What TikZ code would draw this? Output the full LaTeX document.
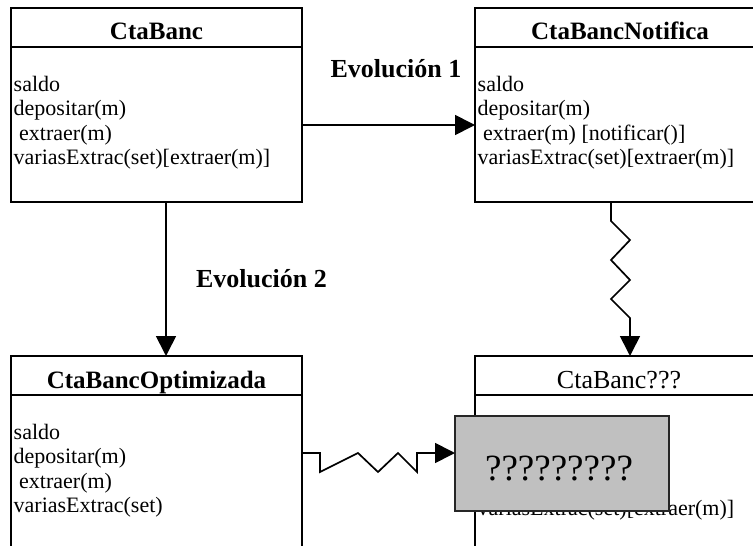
\documentclass[tikz,border=0pt]{standalone}
\usepackage{fontspec}
\setmainfont{Liberation Serif}
\usetikzlibrary{arrows.meta}
\definecolor{graybox}{RGB}{192,192,192}
\begin{document}
\begin{tikzpicture}[x=1pt,y=-1pt,
  classbox/.style={draw, line width=2.5pt, minimum width=291pt, minimum height=194pt,
    inner sep=0pt, outer sep=0pt, anchor=north west},
  sepline/.style={line width=2.5pt},
  conn/.style={line width=1.7pt, line join=miter, -{Triangle[length=20pt,width=20pt]}},
  hdr/.style={font=\fontsize{25}{30}\selectfont\bfseries, anchor=base, inner sep=0pt},
  hdrplain/.style={font=\fontsize{26}{30}\selectfont, anchor=base, inner sep=0pt},
  body/.style={font=\fontsize{22}{26}\selectfont, anchor=base west, inner sep=0pt},
  evo/.style={font=\fontsize{26}{30}\selectfont\bfseries, anchor=base, inner sep=0pt},
  unknownbox/.style={draw=black!85, fill=graybox, line width=1.5pt, minimum width=214pt,
    minimum height=95pt, inner sep=0pt, outer sep=0pt, anchor=north west},
  qtext/.style={font=\fontsize{37}{40}\selectfont, anchor=base, inner sep=0pt}
]
\useasboundingbox (0,0) rectangle (753,546);
\clip (0,0) rectangle (753,546);

% class boxes
\node[classbox] (A) at (11,8) {};
\node[classbox] (B) at (475,8) {};
\node[classbox] (C) at (11,356) {};
\node[classbox] (D) at (475,356) {};

% header separators
\draw[sepline] ([yshift=-39pt]A.north west) -- ([yshift=-39pt]A.north east);
\draw[sepline] ([yshift=-39pt]B.north west) -- ([yshift=-39pt]B.north east);
\draw[sepline] ([yshift=-39pt]C.north west) -- ([yshift=-39pt]C.north east);
\draw[sepline] ([yshift=-39pt]D.north west) -- ([yshift=-39pt]D.north east);

% headers
\node[hdr] (hA) at (156.5,39) {CtaBanc};
\node[hdr] (hB) at (620,39) {CtaBancNotifica};
\node[hdr] (hC) at (156.5,388) {CtaBancOptimizada};
\node[hdrplain] (hD) at (619,388) {CtaBanc???};

% body of CtaBanc
\node[body] (a1) at (13.5,91) {saldo};
\node[body] (a2) at (13.5,115.5) {depositar(m)};
\node[body] (a3) at (13.5,140) {\ extraer(m)};
\node[body] (a4) at (13.5,164.5) {variasExtrac(set)[extraer(m)]};

% body of CtaBancNotifica
\node[body] (b1) at (477.5,91) {saldo};
\node[body] (b2) at (477.5,115.5) {depositar(m)};
\node[body] (b3) at (477.5,140) {\ extraer(m) [notificar()]};
\node[body] (b4) at (477.5,164.5) {variasExtrac(set)[extraer(m)]};

% body of CtaBancOptimizada
\node[body] (c1) at (13.5,439) {saldo};
\node[body] (c2) at (13.5,463.5) {depositar(m)};
\node[body] (c3) at (13.5,488) {\ extraer(m)};
\node[body] (c4) at (13.5,512.5) {variasExtrac(set)};

% body of CtaBanc??? (mostly hidden)
\node[body] (d4) at (477.5,515) {variasExtrac(set)[extraer(m)]};

% unknown box
\node[unknownbox] (E) at (455,416) {};
\node[qtext] (q) at (559,480) {?????????};

% labels
\node[evo] (ev1) at (396,77) {Evolución 1};
\node[evo] (ev2) at (261.5,287) {Evolución 2};

% connectors
\draw[conn] ([yshift=-20pt]A.east) -- ([yshift=-20pt]B.west);
\draw[conn] ([xshift=9.5pt]A.south) -- ([xshift=9.5pt]C.north);
\draw[conn] ([xshift=-9.5pt]B.south) -- ++(0,19) -- ++(19,19) -- ++(-19,20)
  -- ++(19,20) -- ++(-19,19) -- ++(19,19) -- ([xshift=9.5pt]D.north);
\draw[conn] (C.east) -- ++(18,0) -- ++(0,19) -- ++(38,-19) -- ++(20,19)
  -- ++(20,-19) -- ++(19,19) -- ++(0,-19) -- ([yshift=10.5pt]E.west);
\end{tikzpicture}
\end{document}
